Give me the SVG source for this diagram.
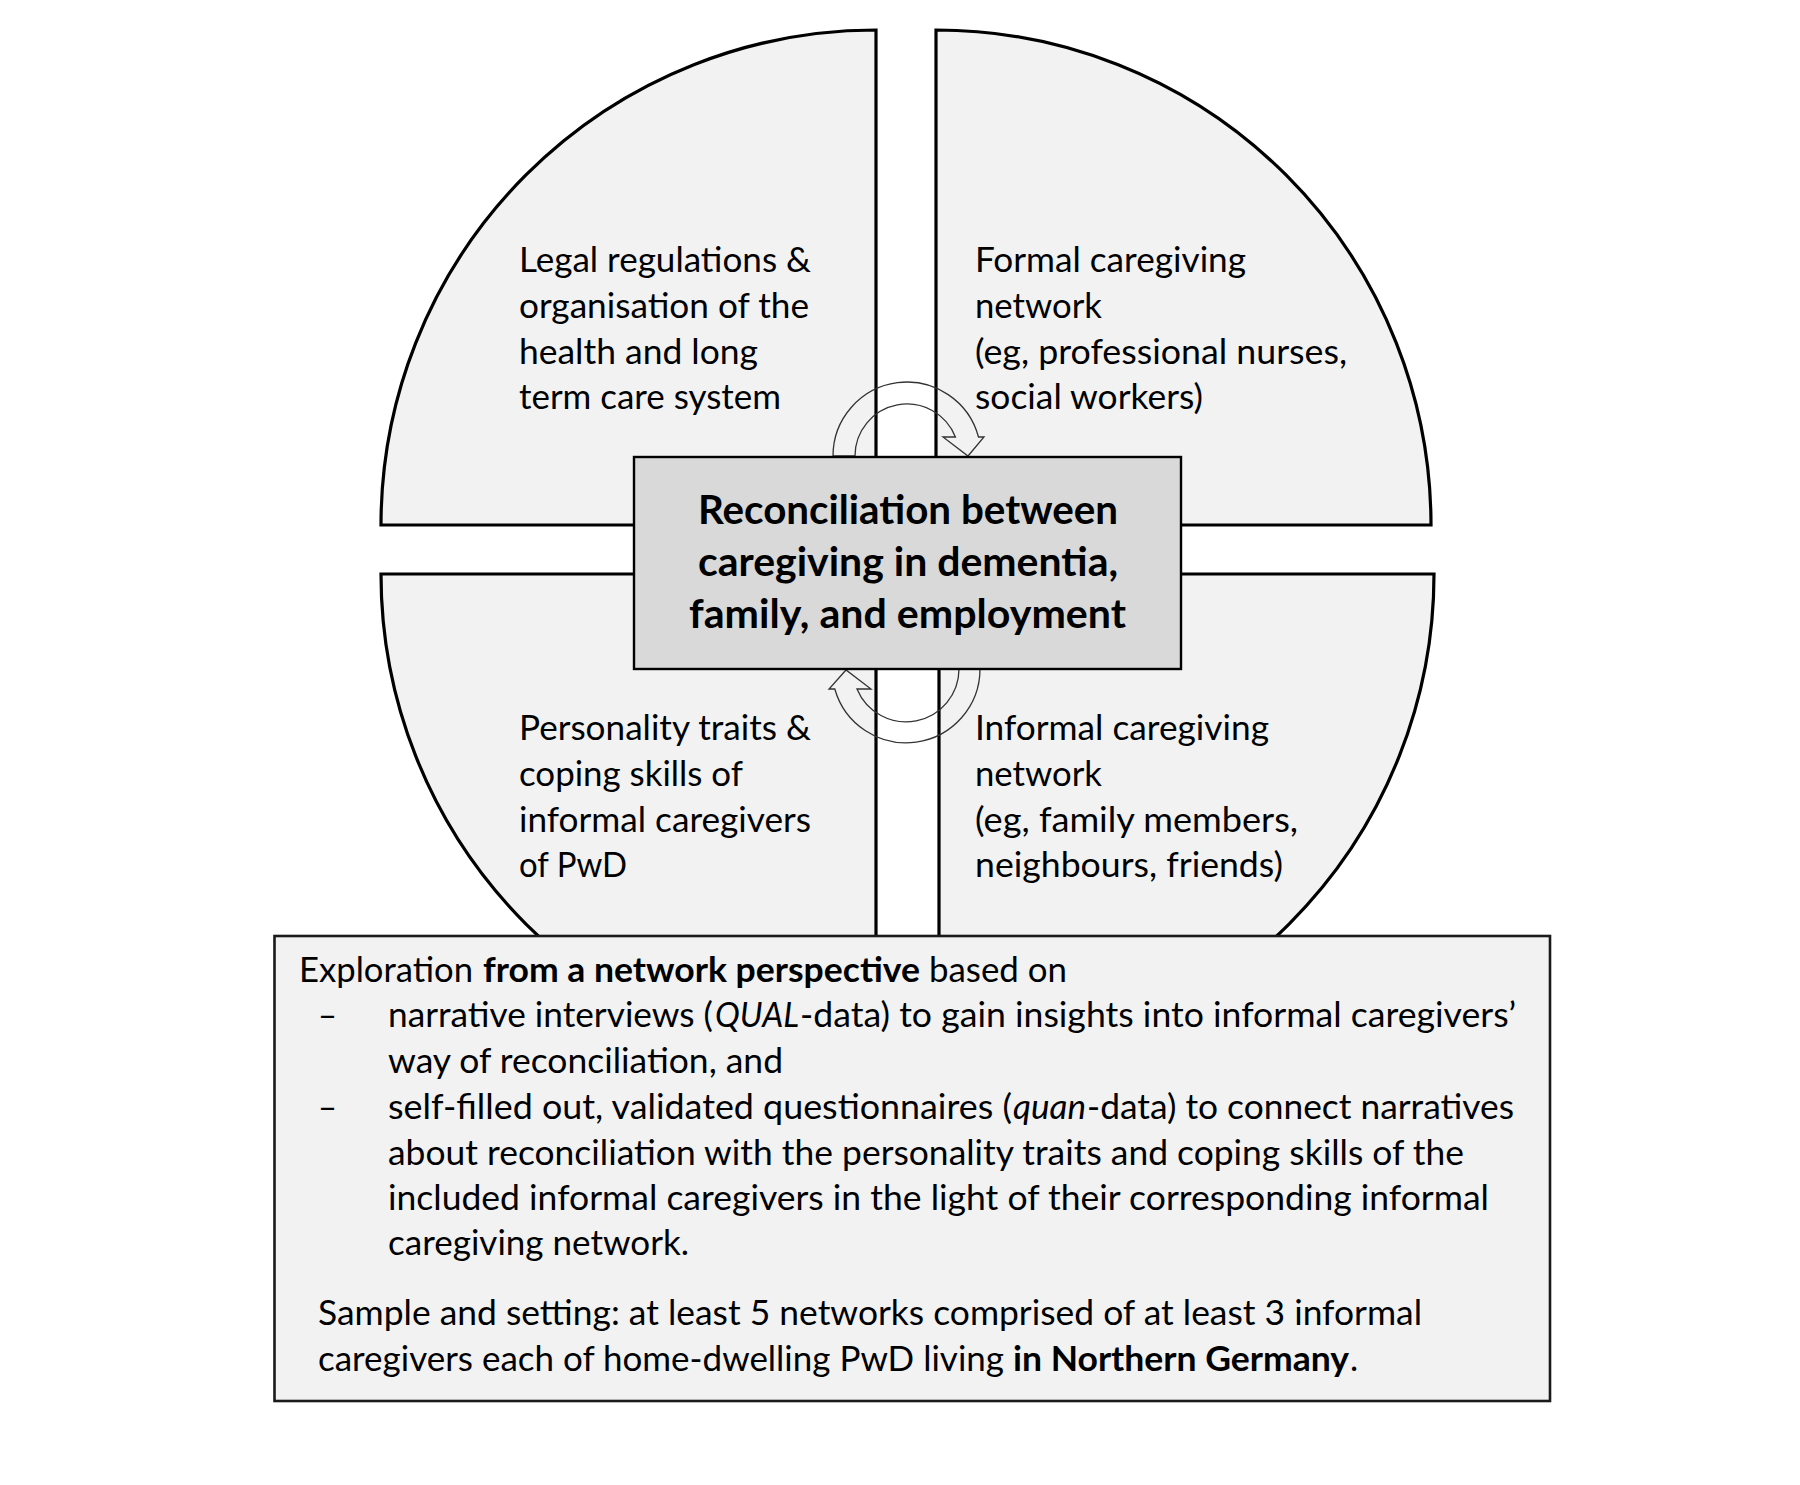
<svg xmlns="http://www.w3.org/2000/svg" width="1800" height="1485" viewBox="0 0 1800 1485">
<style>
.q{fill:#f2f2f2;stroke:#000;stroke-width:3.2}
.cb{fill:#d9d9d9;stroke:#000;stroke-width:2.4}
.bb{fill:#f2f2f2;stroke:#1a1a1a;stroke-width:2.6}
.arr{fill:none;stroke:#333;stroke-width:1.3;stroke-linejoin:miter}
text{font-family:Lato,"Liberation Sans",sans-serif;fill:#000}
.t{font-size:34.5px}
.b{font-weight:bold}
.i{font-style:italic}
.ct{font-size:39.5px;font-weight:bold}
</style>
<rect width="1800" height="1485" fill="#fff"/>
<g id="quadrant-legal">
<path class="q" d="M876 525 L381 525 A495 495 0 0 1 876 30 Z"/>
<text class="t" x="519" y="272" textLength="292" lengthAdjust="spacingAndGlyphs">Legal regulations &amp;</text>
<text class="t" x="519" y="318" textLength="290" lengthAdjust="spacingAndGlyphs">organisation of the</text>
<text class="t" x="519" y="364" textLength="239" lengthAdjust="spacingAndGlyphs">health and long</text>
<text class="t" x="519" y="409" textLength="262" lengthAdjust="spacingAndGlyphs">term care system</text>
</g>
<g id="quadrant-formal">
<path class="q" d="M936 525 L936 30 A495 495 0 0 1 1431 525 Z"/>
<text class="t" x="975" y="272" textLength="271" lengthAdjust="spacingAndGlyphs">Formal caregiving</text>
<text class="t" x="975" y="318" textLength="127" lengthAdjust="spacingAndGlyphs">network</text>
<text class="t" x="975" y="364" textLength="372" lengthAdjust="spacingAndGlyphs">(eg, professional nurses,</text>
<text class="t" x="975" y="409" textLength="228" lengthAdjust="spacingAndGlyphs">social workers)</text>
</g>
<g id="quadrant-personality">
<path class="q" d="M876 574 L381 574 A495 495 0 0 0 876 1069 Z"/>
<text class="t" x="519" y="740" textLength="292" lengthAdjust="spacingAndGlyphs">Personality traits &amp;</text>
<text class="t" x="519" y="786" textLength="224" lengthAdjust="spacingAndGlyphs">coping skills of</text>
<text class="t" x="519" y="832" textLength="292" lengthAdjust="spacingAndGlyphs">informal caregivers</text>
<text class="t" x="519" y="877" textLength="108" lengthAdjust="spacingAndGlyphs">of PwD</text>
</g>
<g id="quadrant-informal">
<path class="q" d="M939 574 L1434 574 A495 495 0 0 1 939 1069 Z"/>
<text class="t" x="975" y="740" textLength="294" lengthAdjust="spacingAndGlyphs">Informal caregiving</text>
<text class="t" x="975" y="786" textLength="127" lengthAdjust="spacingAndGlyphs">network</text>
<text class="t" x="975" y="832" textLength="323" lengthAdjust="spacingAndGlyphs">(eg, family members,</text>
<text class="t" x="975" y="877" textLength="308" lengthAdjust="spacingAndGlyphs">neighbours, friends)</text>
</g>
<g id="connectors">
<path class="arr" d="M833 456 A74 74 0 0 1 978.5 437 L984 437 L968 456 L943 437 L955.4 437 A52 52 0 0 0 855 456 Z"/>
<path class="arr" d="M980 669 A74 74 0 0 1 834.8 689 L829 689 L846 670 L871 689 L857 689 A53 53 0 0 0 959 669 Z"/>
</g>
<g id="center">
<rect class="cb" x="634" y="457" width="547" height="212"/>
<text class="ct" x="698" y="524" textLength="420" lengthAdjust="spacingAndGlyphs">Reconciliation between</text>
<text class="ct" x="698" y="576" textLength="420" lengthAdjust="spacingAndGlyphs">caregiving in dementia,</text>
<text class="ct" x="689" y="628" textLength="437" lengthAdjust="spacingAndGlyphs">family, and employment</text>
</g>
<g id="exploration">
<rect class="bb" x="274.5" y="936" width="1275.5" height="465"/>
<text class="t" x="299" y="982" textLength="174" lengthAdjust="spacingAndGlyphs">Exploration</text>
<text class="t b" x="483" y="982" textLength="437" lengthAdjust="spacingAndGlyphs">from a network perspective</text>
<text class="t" x="929" y="982" textLength="138" lengthAdjust="spacingAndGlyphs">based on</text>
<text class="t" x="318" y="1027" textLength="19" lengthAdjust="spacingAndGlyphs">–</text>
<text class="t" x="388" y="1027" textLength="325" lengthAdjust="spacingAndGlyphs">narrative interviews (</text>
<text class="t i" x="715" y="1027" textLength="84" lengthAdjust="spacingAndGlyphs">QUAL</text>
<text class="t" x="800" y="1027" textLength="716" lengthAdjust="spacingAndGlyphs">-data) to gain insights into informal caregivers’</text>
<text class="t" x="388" y="1073" textLength="395" lengthAdjust="spacingAndGlyphs">way of reconciliation, and</text>
<text class="t" x="318" y="1119" textLength="19" lengthAdjust="spacingAndGlyphs">–</text>
<text class="t" x="388" y="1119" textLength="624" lengthAdjust="spacingAndGlyphs">self-filled out, validated questionnaires (</text>
<text class="t i" x="1013" y="1119" textLength="73" lengthAdjust="spacingAndGlyphs">quan</text>
<text class="t" x="1087" y="1119" textLength="427" lengthAdjust="spacingAndGlyphs">-data) to connect narratives</text>
<text class="t" x="388" y="1165" textLength="1076" lengthAdjust="spacingAndGlyphs">about reconciliation with the personality traits and coping skills of the</text>
<text class="t" x="388" y="1210" textLength="1101" lengthAdjust="spacingAndGlyphs">included informal caregivers in the light of their corresponding informal</text>
<text class="t" x="388" y="1255" textLength="301" lengthAdjust="spacingAndGlyphs">caregiving network.</text>
<text class="t" x="318" y="1325" textLength="1104" lengthAdjust="spacingAndGlyphs">Sample and setting: at least 5 networks comprised of at least 3 informal</text>
<text class="t" x="318" y="1371" textLength="686" lengthAdjust="spacingAndGlyphs">caregivers each of home-dwelling PwD living</text>
<text class="t b" x="1013" y="1371" textLength="336" lengthAdjust="spacingAndGlyphs">in Northern Germany</text>
<text class="t" x="1350" y="1371">.</text>
</g>
</svg>
